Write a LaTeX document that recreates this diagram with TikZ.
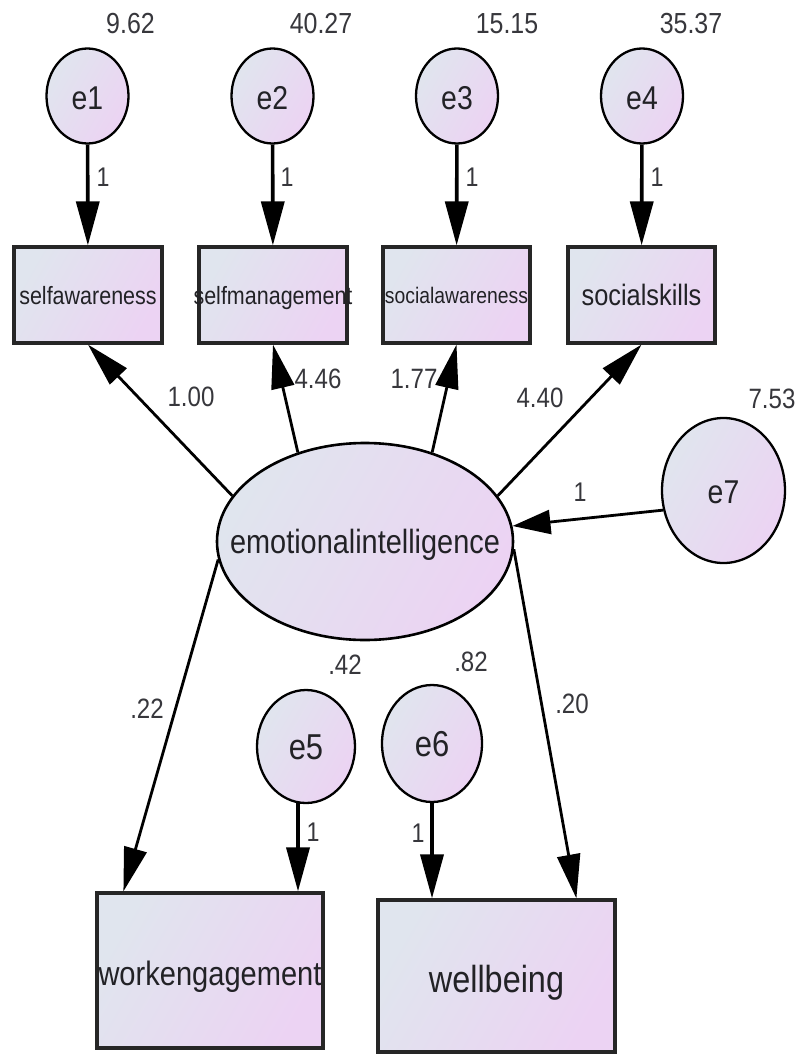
\documentclass[tikz,border=0pt]{standalone}
\usepackage{fontspec}
\setmainfont{Liberation Sans}
\usepackage{graphicx}
\usetikzlibrary{arrows.meta,shapes.geometric,calc}

\definecolor{shadeL}{RGB}{224,229,238}
\definecolor{shadeR}{RGB}{236,211,243}
\definecolor{ink}{RGB}{34,34,38}
\definecolor{numink}{RGB}{55,55,60}

% condensed text of a given size
\newcommand{\sq}[2]{{\fontsize{#1}{#1}\selectfont\scalebox{0.86}[1]{#2}}}
% text inside a shape: size, baseline drop below the centre, text;
% it takes no room, so it never enlarges its shape
\newcommand{\nt}[3]{\raisebox{-#2}[0pt][0pt]{\makebox[0pt]{\sq{#1}{#3}}}}

\begin{document}
\begin{tikzpicture}[x=1pt,y=-1pt,
  fillgrad/.style={left color=shadeL,right color=shadeR,shading angle=60},
  errnode/.style={ellipse,draw=black,line width=2.3pt,fillgrad,inner sep=0pt,text=ink},
  obsbox/.style={rectangle,draw=black!85,line width=3.2pt,fillgrad,inner sep=0pt,text=ink},
  lbl/.style={inner sep=0pt,text=numink},
  regpath/.style={line width=2.8pt,-{Triangle[length=44pt,width=23pt]}},
  errpath/.style={line width=3.6pt,-{Triangle[length=44pt,width=23pt]}},
  sidepath/.style={line width=2.8pt,-{Triangle[length=38pt,width=24pt]}},
]
\fill[white] (0,0) rectangle (800,1055);
\useasboundingbox (0,0) rectangle (800,1055);

% error terms of the indicators
\node[errnode,minimum width=82pt,minimum height=95pt] (e1) at (87.5,96) {\nt{33}{13pt}{e1}};
\node[errnode,minimum width=82pt,minimum height=95pt] (e2) at (272.5,96) {\nt{33}{13pt}{e2}};
\node[errnode,minimum width=82pt,minimum height=95pt] (e3) at (457,96) {\nt{33}{13pt}{e3}};
\node[errnode,minimum width=82pt,minimum height=95pt] (e4) at (642,96) {\nt{33}{13pt}{e4}};

% indicators
\node[obsbox,minimum width=148pt,minimum height=96pt] (sa) at (88,295) {\nt{25}{9pt}{selfawareness}};
\node[obsbox,minimum width=148pt,minimum height=96pt] (sm) at (273,295) {\nt{25}{9pt}{selfmanagement}};
\node[obsbox,minimum width=147pt,minimum height=96pt] (soa) at (456.5,295) {\nt{22.5}{8pt}{socialawareness}};
\node[obsbox,minimum width=147pt,minimum height=96pt] (ss) at (641.5,295) {\nt{29.5}{10pt}{socialskills}};

% latent factor and its disturbance
\node[errnode,line width=2.6pt,minimum width=296pt,minimum height=197pt] (EI) at (365,541.5) {\nt{33.6}{11.5pt}{emotionalintelligence}};
\node[errnode,minimum width=123pt,minimum height=145pt] (e7) at (723.5,490.5) {\nt{33}{13pt}{e7}};

% outcomes
\node[errnode,minimum width=98pt,minimum height=113pt] (e5) at (306,746.5) {\nt{36}{13pt}{e5}};
\node[errnode,minimum width=100pt,minimum height=117pt] (e6) at (432,743.5) {\nt{36}{13pt}{e6}};
\node[obsbox,minimum width=226pt,minimum height=155pt] (we) at (210,970.5) {\nt{33.8}{14.5pt}{workengagement}};
\node[obsbox,minimum width=237pt,minimum height=152pt] (wb) at (496.5,976) {\nt{37.7}{16pt}{wellbeing}};

% variances
\node[lbl] (v1) at (130.5,24) {\sq{29}{9.62}};
\node[lbl] (v2) at (321,24) {\sq{29}{40.27}};
\node[lbl] (v3) at (507,24) {\sq{29}{15.15}};
\node[lbl] (v4) at (691,24) {\sq{29}{35.37}};
\node[lbl] (v7) at (772,399) {\sq{28}{7.53}};
\node[lbl] (v5) at (345,665) {\sq{28}{.42}};
\node[lbl] (v6) at (471,662) {\sq{28}{.82}};

% error paths
\draw[errpath] (e1) -- (sa);
\draw[errpath] (e2) -- (sm);
\draw[errpath] (e3) -- (soa);
\draw[errpath] (e4) -- (ss);
\draw[errpath] (e5.262) -- (e5.262 |- we.north);
\draw[errpath] (e6) -- (e6 |- wb.north);
\draw[sidepath] (e7.198) -- (EI.6);

\node[lbl] (w1) at (103,177) {\sq{27}{1}};
\node[lbl] (w2) at (287,177) {\sq{27}{1}};
\node[lbl] (w3) at (472,177) {\sq{27}{1}};
\node[lbl] (w4) at (657,177) {\sq{27}{1}};
\node[lbl] (w5) at (313,832) {\sq{27}{1}};
\node[lbl] (w6) at (418,833) {\sq{27}{1}};
\node[lbl] (w7) at (580,492) {\sq{27}{1}};

% loadings and regression paths
\draw[regpath] (EI.161) -- (sa.south);
\draw[regpath] (EI.127) -- (sm.south);
\draw[regpath] (EI.53) -- (soa.south);
\draw[regpath] (EI.19) -- (ss.south);
\draw[regpath] (EI.187) -- ([xshift=28pt]we.north west);
\draw[regpath] (EI.357) -- ([xshift=200pt]wb.north west);

\node[lbl] (l1) at (191,397) {\sq{28}{1.00}};
\node[lbl] (l2) at (318,379) {\sq{28}{4.46}};
\node[lbl] (l3) at (414,379) {\sq{28}{1.77}};
\node[lbl] (l4) at (540,398) {\sq{28}{4.40}};
\node[lbl] (r1) at (147,709) {\sq{28}{.22}};
\node[lbl] (r2) at (572,704) {\sq{28}{.20}};
\end{tikzpicture}
\end{document}
